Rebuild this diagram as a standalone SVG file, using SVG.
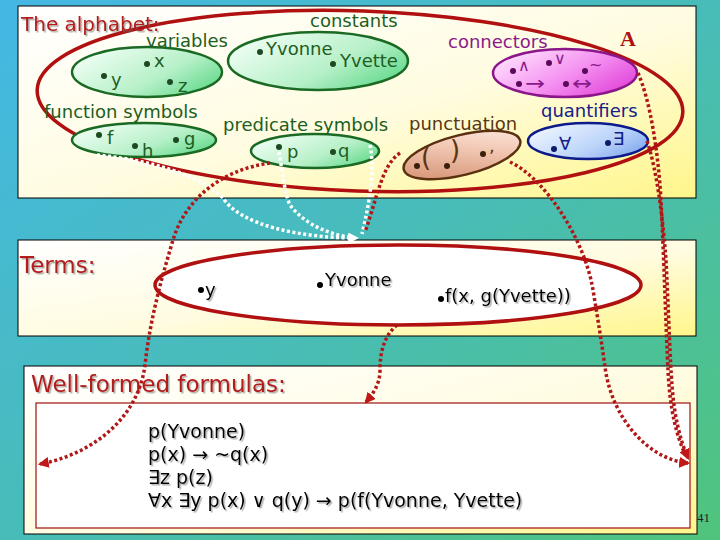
<svg xmlns="http://www.w3.org/2000/svg" width="720" height="540" viewBox="0 0 720 540">
<defs>
<linearGradient id="bg" x1="0" y1="0" x2="1" y2="1">
<stop offset="0" stop-color="#44b8e4"/>
<stop offset="0.5" stop-color="#48bcb8"/>
<stop offset="1" stop-color="#50c47c"/>
</linearGradient>
<linearGradient id="panel" x1="0" y1="0" x2="1" y2="1">
<stop offset="0" stop-color="#ffffff"/>
<stop offset="0.55" stop-color="#fffce0"/>
<stop offset="1" stop-color="#fff68a"/>
</linearGradient>
<linearGradient id="gGreen" x1="0" y1="0.2" x2="1" y2="0.8">
<stop offset="0" stop-color="#f2fff6"/>
<stop offset="0.6" stop-color="#b6f0c8"/>
<stop offset="1" stop-color="#5ed888"/>
</linearGradient>
<linearGradient id="gPink" x1="0" y1="0.2" x2="1" y2="0.8">
<stop offset="0" stop-color="#ffe4ff"/>
<stop offset="0.55" stop-color="#f48ef0"/>
<stop offset="1" stop-color="#e040d8"/>
</linearGradient>
<linearGradient id="gBlue" x1="0" y1="0.2" x2="1" y2="0.8">
<stop offset="0" stop-color="#f0f6ff"/>
<stop offset="0.6" stop-color="#bcd4fa"/>
<stop offset="1" stop-color="#7ea6ee"/>
</linearGradient>
<linearGradient id="gBrown" x1="0" y1="1" x2="1" y2="0">
<stop offset="0" stop-color="#d08868"/>
<stop offset="0.6" stop-color="#f2c8b4"/>
<stop offset="1" stop-color="#fff0e8"/>
</linearGradient>
<filter id="sh" x="-5%" y="-20%" width="115%" height="150%">
<feDropShadow dx="1.5" dy="1.5" stdDeviation="0.5" flood-color="#666" flood-opacity="0.55"/>
</filter>
<marker id="arRed" viewBox="0 0 10 10" refX="8" refY="5" markerWidth="11" markerHeight="11" markerUnits="userSpaceOnUse" orient="auto">
<path d="M0,0 L10,5 L0,10 z" fill="#c01818"/>
</marker>
<marker id="arWhite" viewBox="0 0 10 10" refX="8" refY="5" markerWidth="11" markerHeight="11" markerUnits="userSpaceOnUse" orient="auto">
<path d="M0,0 L10,5 L0,10 z" fill="#ffffff"/>
</marker>
</defs>
<style>
text{font-family:"DejaVu Sans","Liberation Sans",sans-serif}
.panel{fill:url(#panel);stroke:#000;stroke-width:1}
.title{fill:#b41c1c;font-size:20px;filter:url(#sh)}
.big{fill:none;stroke:#b01010;stroke-width:3.5}
.gE{fill:url(#gGreen);stroke:#1b6a24;stroke-width:2.5}
.gT{fill:#1d5e22;font-size:18px}
.gD{fill:#1d4a20}
.pE{fill:url(#gPink);stroke:#8a168a;stroke-width:2.5}
.pT{fill:#8a1a8a;font-size:18px}
.pS{fill:#8a1a8a;font-size:16px}
.pD{fill:#5a0a5a}
.bE{fill:url(#gBlue);stroke:#0c1a8a;stroke-width:2.5}
.bT{fill:#14208a;font-size:18px}
.bD{fill:#0c1a6a}
.nE{fill:url(#gBrown);stroke:#5a3010;stroke-width:2.5}
.nT{fill:#5a3614;font-size:18px}
.nP{fill:#5a3614;font-size:26px}
.nD{fill:#3a200a}
.term{fill:#000;font-size:18px;filter:url(#sh)}
.wff{fill:#000;font-size:19px;filter:url(#sh)}
.red{fill:none;stroke:#b01818;stroke-width:3.5;stroke-dasharray:3 2.5}
.white{fill:none;stroke:#ffffff;stroke-width:3.5;stroke-dasharray:3 2.5}
</style>
<rect x="0" y="0" width="720" height="540" fill="url(#bg)"/>

<g id="panel-alphabet">
<rect class="panel" x="18" y="6" width="678" height="192"/>
</g>
<g id="panel-terms">
<rect class="panel" x="18" y="240" width="678" height="96"/>
</g>
<g id="panel-wff">
<rect class="panel" x="24" y="366" width="673" height="168"/>
<rect x="36" y="403" width="654" height="125" fill="#ffffff" stroke="#a01010" stroke-width="1.2"/>
</g>

<g id="alphabet">
<ellipse class="big" cx="360" cy="101" rx="323" ry="90" transform="rotate(2 360 101)" fill="#ffffff"/>
<text class="title" x="21" y="31">The alphabet:</text>
<text x="620" y="46" style="font-family:'Liberation Serif',serif;font-weight:bold;font-size:22px;fill:#b01010">A</text>
</g>

<g id="variables">
<ellipse class="gE" cx="147" cy="72" rx="75" ry="25"/>
<text class="gT" x="146" y="47">variables</text>
<circle class="gD" cx="147" cy="64" r="3"/><text class="gT" x="154" y="67">x</text>
<circle class="gD" cx="104" cy="76" r="3"/><text class="gT" x="111" y="86">y</text>
<circle class="gD" cx="170" cy="82" r="3"/><text class="gT" x="178" y="92">z</text>
</g>

<g id="constants">
<ellipse class="gE" cx="318" cy="61" rx="90" ry="29"/>
<text class="gT" x="310" y="27">constants</text>
<circle class="gD" cx="260" cy="52" r="3"/><text class="gT" x="266" y="55">Yvonne</text>
<circle class="gD" cx="333" cy="64" r="3"/><text class="gT" x="340" y="67">Yvette</text>
</g>

<g id="function-symbols">
<ellipse class="gE" cx="144" cy="140" rx="72" ry="17"/>
<text class="gT" x="44" y="118">function symbols</text>
<circle class="gD" cx="99" cy="135" r="3"/><text class="gT" x="107" y="144">f</text>
<circle class="gD" cx="135" cy="146" r="3"/><text class="gT" x="142" y="157">h</text>
<circle class="gD" cx="176" cy="140" r="3"/><text class="gT" x="184" y="145">g</text>
</g>

<g id="predicate-symbols">
<ellipse class="gE" cx="315" cy="151" rx="64" ry="17"/>
<text class="gT" x="223" y="131">predicate symbols</text>
<circle class="gD" cx="279" cy="147" r="3"/><text class="gT" x="287" y="158">p</text>
<circle class="gD" cx="333" cy="152" r="3"/><text class="gT" x="338" y="157">q</text>
</g>

<g id="connectors">
<ellipse class="pE" cx="565" cy="73" rx="72" ry="24"/>
<text class="pT" x="448" y="48">connectors</text>
<circle class="pD" cx="513" cy="71" r="3"/><text class="pS" x="518" y="71">∧</text>
<circle class="pD" cx="549" cy="63" r="3"/><text class="pS" x="554" y="64">∨</text>
<circle class="pD" cx="585" cy="71" r="3"/><text class="pS" x="589" y="70">~</text>
<circle class="pD" cx="519" cy="84" r="3"/><text class="pS" transform="translate(525 90) scale(1.5 1.2)">→</text>
<circle class="pD" cx="566" cy="84" r="3"/><text class="pS" transform="translate(572 90) scale(1.5 1.2)">↔</text>
</g>

<g id="quantifiers">
<ellipse class="bE" cx="588" cy="141" rx="60" ry="18"/>
<text class="bT" x="541" y="117">quantifiers</text>
<circle class="bD" cx="554" cy="149" r="3"/><text class="bT" x="559" y="150">∀</text>
<circle class="bD" cx="608" cy="143" r="3"/><text class="bT" x="613" y="145">∃</text>
</g>

<g id="punctuation">
<ellipse class="nE" cx="462" cy="155" rx="60" ry="20" transform="rotate(-14 462 155)"/>
<text class="nT" x="409" y="130">punctuation</text>
<text class="nP" x="421" y="166">(</text>
<text class="nP" x="450" y="159">)</text>
<circle class="nD" cx="417" cy="166" r="3"/>
<circle class="nD" cx="447" cy="166" r="3"/>
<circle class="nD" cx="483" cy="154" r="3"/>
<text class="nT" x="489" y="152">,</text>
</g>

<g id="terms">
<ellipse cx="398" cy="285" rx="243" ry="40" fill="#ffffff" stroke="#b01010" stroke-width="3.5"/>
<text class="title" x="20" y="273" style="font-size:23px">Terms:</text>
<circle cx="201" cy="290" r="3" fill="#000"/><text class="term" x="205" y="296">y</text>
<circle cx="320" cy="285" r="3" fill="#000"/><text class="term" x="325" y="286">Yvonne</text>
<circle cx="441" cy="299" r="3" fill="#000"/><text class="term" x="445" y="302">f(x, g(Yvette))</text>
</g>

<g id="wff">
<text class="title" x="31" y="392" style="font-size:23px">Well-formed formulas:</text>
<text class="wff" x="148" y="438">p(Yvonne)</text>
<text class="wff" x="148" y="461">p(x) → ~q(x)</text>
<text class="wff" x="148" y="484">∃z p(z)</text>
<text class="wff" x="148" y="507">∀x ∃y p(x) ∨ q(y) → p(f(Yvonne, Yvette)</text>
<text x="697" y="522" style="font-family:'Liberation Serif',serif;font-size:13px;fill:#222">41</text>
</g>

<g id="connectors-lines">
<path class="white" d="M97,155 C150,160 200,175 223,198 C240,225 300,238 357,238" marker-end="url(#arWhite)"/>
<path class="white" d="M279,152 C283,175 285,195 290,205 C305,225 330,235 355,238"/>
<path class="white" d="M370,145 C375,170 370,200 362,234"/>
<path class="red" d="M400,153 C382,165 378,195 365,232"/>
<path class="red" d="M270,163 C220,170 185,200 173,240 C161,280 150,320 145,365 C138,420 90,455 40,464" marker-end="url(#arRed)"/>
<path class="red" d="M510,162 C545,178 585,240 593,290 C598,320 602,345 605,367 C612,420 650,460 688,463" marker-end="url(#arRed)"/>
<path class="red" d="M638,73 C650,100 658,150 661,200 C664,260 666,330 668,370 C670,410 676,435 686,456"/>
<path class="red" d="M647,141 C657,170 663,220 666,260 C669,320 670,360 672,385 C674,415 680,440 688,458" marker-end="url(#arRed)"/>
<path class="red" d="M397,325 C385,335 380,350 380,370 C380,385 372,395 366,402" marker-end="url(#arRed)"/>
</g>
</svg>
